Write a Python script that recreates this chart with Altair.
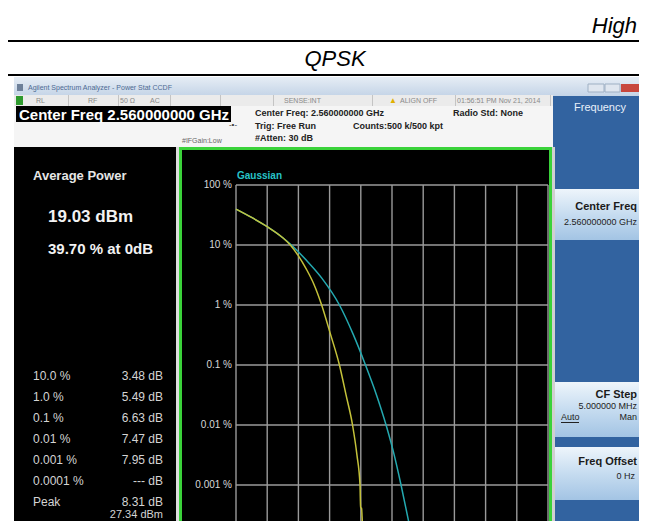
import altair as alt
import pandas as pd

# ---------------- data ----------------
x_ticks_db = [0, 2, 4, 6, 8, 10, 12, 14, 16, 18, 20]
y_ticks_pct = [100, 10, 1, 0.1, 0.01, 0.001]
y_tick_labels = ["100 %", "10 %", "1 %", "0.1 %", "0.01 %", "0.001 %"]

gauss_db = [0, 1, 2, 3, 3.55, 4.5, 5.5, 6.63, 7.5, 8.3, 9.0, 9.62, 10.1, 10.58,
            11.0, 11.38]
gauss_pct = [39.7, 28.8, 20.2, 13.2, 10, 5.6, 2.8, 1.0, 0.33, 0.1, 0.032, 0.01,
             0.0035, 0.001, 0.0003, 0.0001]

qpsk_db = [0, 1, 2, 3, 3.48, 4.0, 4.5, 5.0, 5.49, 6.05, 6.63, 7.05, 7.47, 7.75,
           7.95, 7.97, 7.99, 8.05, 8.08, 8.1, 8.12]
qpsk_pct = [39.7, 28.8, 20.2, 13.2, 10, 6.6, 4.0, 2.2, 1.0, 0.33, 0.1, 0.032, 0.01,
            0.0032, 0.001, 0.0006, 0.00042, 0.00041, 0.0003, 0.00022, 0.0001]

stat_levels = ["10.0 %", "1.0 %", "0.1 %", "0.01 %", "0.001 %", "0.0001 %", "Peak"]
stat_values = ["3.48 dB", "5.49 dB", "6.63 dB", "7.47 dB", "7.95 dB", "--- dB", "8.31 dB"]
avg_power = "19.03 dBm"
avg_pct = "39.70 % at 0dB"
peak_dbm = "27.34 dBm"

# ---------------- layout helpers ----------------
M = 8
W, H = 631, 513
FONT = "Liberation Sans"


def X(p):
    return p - M


def Y(p):
    return p - M


one = pd.DataFrame({"k": [0]})
layers = []


def grad(c1, c2, c3=None):
    stops = [alt.GradientStop(color=c1, offset=0)]
    if c3 is not None:
        stops.append(alt.GradientStop(color=c2, offset=0.5))
        stops.append(alt.GradientStop(color=c3, offset=1))
    else:
        stops.append(alt.GradientStop(color=c2, offset=1))
    return alt.LinearGradient(gradient="linear", stops=stops, x1=0, x2=0, y1=0, y2=1)


def box(x1, y1, x2, y2, fill, stroke=None, sw=None):
    kw = {"fill": fill}
    if stroke is not None:
        kw["stroke"] = stroke
        kw["strokeWidth"] = sw if sw is not None else 1
    layers.append(
        alt.Chart(one).mark_rect(**kw).encode(
            x=alt.value(X(x1)), x2=alt.value(X(x2)),
            y=alt.value(Y(y1)), y2=alt.value(Y(y2)))
    )


def txt(s, x, y, size=10, color="#000000", weight="normal", style="normal",
        align="left", font=FONT):
    layers.append(
        alt.Chart(one).mark_text(
            text=s, align=align, baseline="middle", fontSize=size,
            fontWeight=weight, fontStyle=style, color=color, font=font
        ).encode(x=alt.value(X(x)), y=alt.value(Y(y)))
    )


# ---------------- header table ----------------
box(0, 40, 647, 42, "#000000")
box(0, 74, 647, 76, "#000000")
txt("High", 637, 26, size=22, style="italic", align="right")
txt("QPSK", 335, 59, size=22, style="italic", align="center")

# ---------------- analyzer window chrome ----------------
box(14, 77, 647, 96, grad("#e6edf5", "#c4d4e7"))
box(17, 84, 23, 91, "#6d8099")
txt("Agilent Spectrum Analyzer - Power Stat CCDF", 28, 88, size=7, color="#4d6a93")
box(588, 84, 604, 92, "#dfe6ef", stroke="#9fb0c4")
box(605, 84, 620, 92, "#dfe6ef", stroke="#9fb0c4")
box(621, 84, 645, 92, "#c8473d")

# status bar
box(14, 95, 553, 106, "#ebebeb")
box(16, 96, 23, 105, "#2e9a2e")
for sx in [68, 118, 170, 220, 273, 372, 455, 550]:
    box(sx, 95, sx + 1, 106, "#c4c4c4")
for s, sx in [("RL", 36), ("RF", 88), ("50 Ω", 120), ("AC", 150),
              ("SENSE:INT", 284), ("ALIGN OFF", 400), ("01:56:51 PM Nov 21, 2014", 457)]:
    txt(s, sx, 100.5, size=7, color="#8a8a8a")
txt("▲", 393, 100.5, size=8, color="#e0b000", align="center")

# info area
box(14, 106, 553, 147, "#f5f5f5")
box(16, 106, 231, 122, "#000000")
txt("Center Freq 2.560000000 GHz", 19, 114.5, size=15, color="#ffffff", weight="bold")
txt("Center Freq: 2.560000000 GHz", 255, 113, size=9, color="#222222", weight="bold")
txt("Trig: Free Run", 255, 126, size=9, color="#222222", weight="bold")
txt("#Atten: 30 dB", 255, 138, size=9, color="#222222", weight="bold")
txt("Counts:500 k/500 kpt", 353, 126, size=9, color="#222222", weight="bold")
txt("Radio Std: None", 453, 113, size=9, color="#222222", weight="bold")
txt("#IFGain:Low", 182, 141, size=7, color="#666666")
txt("-•-", 233, 125, size=8, color="#333333", align="center")

# right soft-key panel
box(553, 96, 647, 529, "#3263a0")
txt("Frequency", 600, 108, size=11, color="#e8f0fa", align="center")
btn = grad("#eef5fb", "#c6dcf0", "#a3c4e4")
box(555, 189, 647, 240, btn)
box(555, 382, 647, 437, btn)
box(555, 447, 647, 500, btn)
txt("Center Freq", 637, 207, size=11, color="#1b1b1b", weight="bold", align="right")
txt("2.560000000 GHz", 637, 222, size=9, color="#222222", align="right")
txt("CF Step", 637, 395, size=11, color="#1b1b1b", weight="bold", align="right")
txt("5.000000 MHz", 637, 406, size=9, color="#222222", align="right")
txt("Auto", 561, 417, size=9, color="#222222")
box(561, 422, 579, 423, "#222222")
txt("Man", 637, 417, size=9, color="#222222", align="right")
txt("Freq Offset", 637, 462, size=11, color="#1b1b1b", weight="bold", align="right")
txt("0 Hz", 635, 476, size=9, color="#222222", align="right")

# left results panel
box(14, 147, 176, 529, "#000000")
box(176, 147, 179, 529, "#dcdcdc")
box(550, 147, 555, 529, "#d0d0d0")
box(180.5, 148.5, 550.5, 540, "#000000", stroke="#3ad23a", sw=3)

txt("Average Power", 33, 176, size=13, color="#e6e6e6", weight="bold")
txt(avg_power, 48, 217, size=17, color="#f2f2f2", weight="bold")
txt(avg_pct, 48, 249, size=15, color="#f2f2f2", weight="bold")
for i, (lab, val) in enumerate(zip(stat_levels, stat_values)):
    yy = 376 + 21 * i
    txt(lab, 33, yy, size=12, color="#d4d4d4")
    txt(val, 163, yy, size=12, color="#d4d4d4", align="right")
txt(peak_dbm, 163, 514.5, size=11, color="#d4d4d4", align="right")

# ---------------- CCDF plot ----------------
xs = alt.Scale(domain=[0, 20], range=[X(236), X(548)])
ys = alt.Scale(type="log", domain=[0.0001, 100], range=[Y(545), Y(185)])

grid_col = "#9a9a9a"
hgrid = alt.Chart(pd.DataFrame({"pct": y_ticks_pct})).mark_rule(
    color=grid_col, strokeWidth=1.4).encode(
    y=alt.Y("pct:Q", scale=ys, axis=None),
    x=alt.value(X(236)), x2=alt.value(X(548)))
vgrid = alt.Chart(pd.DataFrame({"db": x_ticks_db})).mark_rule(
    color=grid_col, strokeWidth=1.4).encode(
    x=alt.X("db:Q", scale=xs, axis=None),
    y=alt.value(Y(185)), y2=alt.value(H + 20))
ylabels = alt.Chart(pd.DataFrame({"pct": y_ticks_pct, "lab": y_tick_labels})).mark_text(
    align="right", baseline="middle", fontSize=10, color="#d8d8d8", font=FONT).encode(
    y=alt.Y("pct:Q", scale=ys, axis=None), x=alt.value(X(232)), text="lab:N")

gauss_df = pd.DataFrame({"db": gauss_db, "pct": gauss_pct, "i": list(range(len(gauss_db)))})
qpsk_df = pd.DataFrame({"db": qpsk_db, "pct": qpsk_pct, "i": list(range(len(qpsk_db)))})

gauss_line = alt.Chart(gauss_df).mark_line(
    color="#24a9b0", strokeWidth=1.5, interpolate="monotone", clip=True).encode(
    x=alt.X("db:Q", scale=xs, axis=None), y=alt.Y("pct:Q", scale=ys, axis=None),
    order="i:Q")
qpsk_line = alt.Chart(qpsk_df).mark_line(
    color="#c4c23a", strokeWidth=1.5, interpolate="monotone", clip=True).encode(
    x=alt.X("db:Q", scale=xs, axis=None), y=alt.Y("pct:Q", scale=ys, axis=None),
    order="i:Q")

layers += [hgrid, vgrid, ylabels, gauss_line, qpsk_line]
txt("Gaussian", 237, 176, size=10, color="#27c3c8", weight="bold")

chart = alt.layer(*layers).properties(
    width=W, height=H, padding=0, background="white",
    autosize=alt.AutoSizeParams(type="none"),
).configure_view(stroke=None)

chart.save("out.html", embed_options={"renderer": "svg", "actions": False})
